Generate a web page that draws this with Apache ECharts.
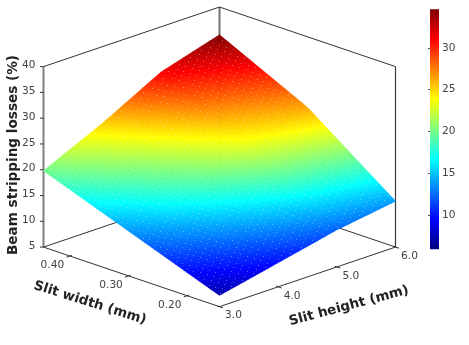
<!DOCTYPE html>
<html><head><meta charset="utf-8">
<style>html,body{margin:0;padding:0;background:#fff}#c{width:469px;height:345px}</style>
<script src="https://cdn.jsdelivr.net/npm/echarts@6/dist/echarts.min.js"></script>
</head><body><div id="c"></div>
<script>
// Data
const widths = [0.145, 0.295, 0.445];          // slit width (mm)
const heights = [3, 4, 5, 6];                  // slit height (mm)
const lossW145 = [7.2, 9.7, 12.2, 13.9];       // losses (%) along height at each width
const lossW295 = [13.5, 18.3, 23.4, 26.3];
const lossW445 = [19.8, 25.1, 31.2, 34.6];
const widthTicks = [0.2, 0.3, 0.4];
const heightTicks = [3, 4, 5, 6];
const lossTicks = [5, 10, 15, 20, 25, 30, 35, 40];
const colorTicks = [10, 15, 20, 25, 30];
const colorMin = 5.9, colorMax = 34.6;
const lossMin = 5, lossMax = 40;
const titleZ = 'Beam stripping losses (%)', titleW = 'Slit width (mm)', titleH = 'Slit height (mm)';

const lossTable = [lossW145, lossW295, lossW445];
const wMin = widths[0], wMax = widths[widths.length - 1], hMin = heights[0], hMax = heights[heights.length - 1];
const K = 11.56; // floor depth in loss units of the oblique view
const vMax = lossMax + 2 * K;
const FONT = '"DejaVu Sans"';

function wn(w) { return (w - wMin) / (wMax - wMin); }
function hn(h) { return (h - hMin) / (hMax - hMin); }
function proj(w, h, z) { const a = wn(w), b = hn(h); return [b - a, z + K * (a + b)]; }

function jet(t) {
  const c = x => Math.round(255 * Math.max(0, Math.min(1, x)));
  return 'rgb(' + c(1.5 - Math.abs(4 * t - 3)) + ',' + c(1.5 - Math.abs(4 * t - 2)) + ',' + c(1.5 - Math.abs(4 * t - 1)) + ')';
}
function colorOf(z) { return jet((z - colorMin) / (colorMax - colorMin)); }

const cells = [];
for (let i = 0; i < widths.length - 1; i++) for (let j = 0; j < heights.length - 1; j++) {
  cells.push([widths[i], widths[i + 1], heights[j], heights[j + 1],
    lossTable[i][j], lossTable[i + 1][j], lossTable[i][j + 1], lossTable[i + 1][j + 1]]);
}

function renderCell(params, api) {
  const w0 = api.value(0), w1 = api.value(1), h0 = api.value(2), h1 = api.value(3);
  const z00 = api.value(4), z10 = api.value(5), z01 = api.value(6), z11 = api.value(7);
  const NW = 40, NH = 26;
  const shade = [], dots = [];
  const at = (a, b) => {
    const z = z00 * (1 - a) * (1 - b) + z10 * a * (1 - b) + z01 * (1 - a) * b + z11 * a * b;
    return { z, p: api.coord(proj(w0 + (w1 - w0) * a, h0 + (h1 - h0) * b, z)) };
  };
  for (let i = 0; i < NW; i++) for (let j = 0; j < NH; j++) {
    const A = at(i / NW, j / NH), B = at((i + 1) / NW, j / NH), C = at((i + 1) / NW, (j + 1) / NH), D = at(i / NW, (j + 1) / NH);
    const col = colorOf((A.z + B.z + C.z + D.z) / 4);
    shade.push({ type: 'polygon', shape: { points: [A.p, B.p, C.p, D.p] }, style: { fill: col, stroke: col, lineWidth: 0.7 }, silent: true });
    if ((i + j * 2) % 5 === 0 && i < NW - 1 && j < NH - 1) {
      dots.push({ type: 'rect', shape: { x: Math.round(C.p[0]), y: Math.round(C.p[1]), width: 1, height: 1 }, style: { fill: 'rgba(255,255,255,0.36)' }, silent: true });
    }
  }
  return { type: 'group', children: shade.concat(dots) };
}

function seg(api, a, b, color, lw) {
  const p = api.coord(proj(a[0], a[1], a[2])), q = api.coord(proj(b[0], b[1], b[2]));
  return { type: 'line', shape: { x1: p[0], y1: p[1], x2: q[0], y2: q[1] }, style: { stroke: color, lineWidth: lw }, silent: true };
}
function renderBack(params, api) {
  return { type: 'group', children: [
    seg(api, [wMax, hMin, lossMin], [wMax, hMin, lossMax], '#808080', 2),
    seg(api, [wMax, hMax, lossMin], [wMax, hMax, lossMax], '#707070', 2),
    seg(api, [wMin, hMax, lossMin], [wMin, hMax, lossMax], '#3c3c3c', 1.2),
    seg(api, [wMax, hMin, lossMax], [wMax, hMax, lossMax], '#333', 1),
    seg(api, [wMax, hMax, lossMax], [wMin, hMax, lossMax], '#333', 1),
    seg(api, [wMax, hMin, lossMin], [wMax, hMax, lossMin], '#333', 1),
    seg(api, [wMax, hMax, lossMin], [wMin, hMax, lossMin], '#333', 1),
    seg(api, [wMax, hMin, lossMin], [wMin, hMin, lossMin], '#333', 1),
    seg(api, [wMin, hMin, lossMin], [wMin, hMax, lossMin], '#333', 1)
  ] };
}
function label(text, x, y, opt) {
  opt = opt || {};
  return { type: 'text', x, y, rotation: opt.rot || 0, silent: true,
    style: { text, x: 0, y: 0, fill: opt.fill || '#444', font: (opt.bold ? 'bold ' : '') + (opt.size || 10.6) + 'px ' + FONT,
      align: opt.align || 'center', verticalAlign: 'middle' } };
}
function renderDecor(params, api) {
  const out = [];
  const tick = (p, dx0, dy0, dx1, dy1) => out.push({ type: 'line', shape: { x1: p[0] + dx0, y1: p[1] + dy0, x2: p[0] + dx1, y2: p[1] + dy1 }, style: { stroke: '#333', lineWidth: 1 }, silent: true });
  widthTicks.forEach(w => {
    const p = api.coord(proj(w, hMin, lossMin));
    tick(p, 2, -0.7, -3.5, 1.2);
    out.push(label(w.toFixed(2), p[0] - 17.5, p[1] + 9));
  });
  heightTicks.forEach(h => {
    const p = api.coord(proj(wMin, h, lossMin));
    tick(p, -2, -0.7, 3.5, 1.2);
    out.push(label(h.toFixed(1), p[0] + 14, p[1] + 9));
  });
  lossTicks.forEach(z => {
    const p = api.coord(proj(wMax, hMin, z));
    tick(p, 0, 0, -3.5, 0);
    out.push(label(String(z), p[0] - 8, p[1] - 1, { align: 'right' }));
  });
  out.push(label(titleZ, 13, 155, { rot: Math.PI / 2, bold: true, size: 13.6, fill: '#222' }));
  out.push(label(titleW, 90, 303, { rot: -17.5 * Math.PI / 180, bold: true, size: 13.4, fill: '#222' }));
  out.push(label(titleH, 349, 306, { rot: 15 * Math.PI / 180, bold: true, size: 13.4, fill: '#222' }));
  return { type: 'group', children: out };
}
function renderBar(params, api) {
  const a = api.coord([0, colorMin]), b = api.coord([1, colorMax]);
  const stops = [];
  for (let i = 0; i <= 64; i++) stops.push({ offset: i / 64, color: jet(i / 64) });
  return { type: 'rect', shape: { x: a[0], y: b[1], width: b[0] - a[0], height: a[1] - b[1] }, silent: true,
    style: { fill: { type: 'linear', x: 0, y: 1, x2: 0, y2: 0, colorStops: stops } } };
}

const chart = echarts.init(document.getElementById('c'), null, { renderer: 'canvas' });
chart.setOption({
  animation: false,
  backgroundColor: '#fff',
  grid: [
    { left: 43.5, top: 7, width: 352, height: 299.7 },
    { left: 430, top: 9.3, width: 9, height: 240 }
  ],
  xAxis: [
    { type: 'value', gridIndex: 0, min: -1, max: 1, show: false },
    { type: 'value', gridIndex: 1, min: 0, max: 1, show: false }
  ],
  yAxis: [
    { type: 'value', gridIndex: 0, min: lossMin, max: vMax, show: false },
    { type: 'value', gridIndex: 1, min: colorMin, max: colorMax, position: 'right', z: 10,
      axisLine: { show: false }, splitLine: { show: false },
      axisTick: { show: true, inside: true, length: 2, lineStyle: { color: '#555' }, customValues: colorTicks },
      axisLabel: { show: true, margin: 3, color: '#444', fontFamily: 'DejaVu Sans', fontSize: 10.6, customValues: colorTicks } }
  ],
  series: [
    { type: 'custom', xAxisIndex: 0, yAxisIndex: 0, z: 1, clip: false, silent: true, data: [[0]], renderItem: renderBack },
    { type: 'custom', xAxisIndex: 0, yAxisIndex: 0, z: 2, clip: false, silent: true, data: cells, renderItem: renderCell, encode: { x: 0, y: 4 } },
    { type: 'custom', xAxisIndex: 0, yAxisIndex: 0, z: 3, clip: false, silent: true, data: [[0]], renderItem: renderDecor },
    { type: 'custom', xAxisIndex: 1, yAxisIndex: 1, z: 3, clip: false, silent: true, data: [[colorMin, colorMax]], renderItem: renderBar }
  ]
});
</script></body></html>
